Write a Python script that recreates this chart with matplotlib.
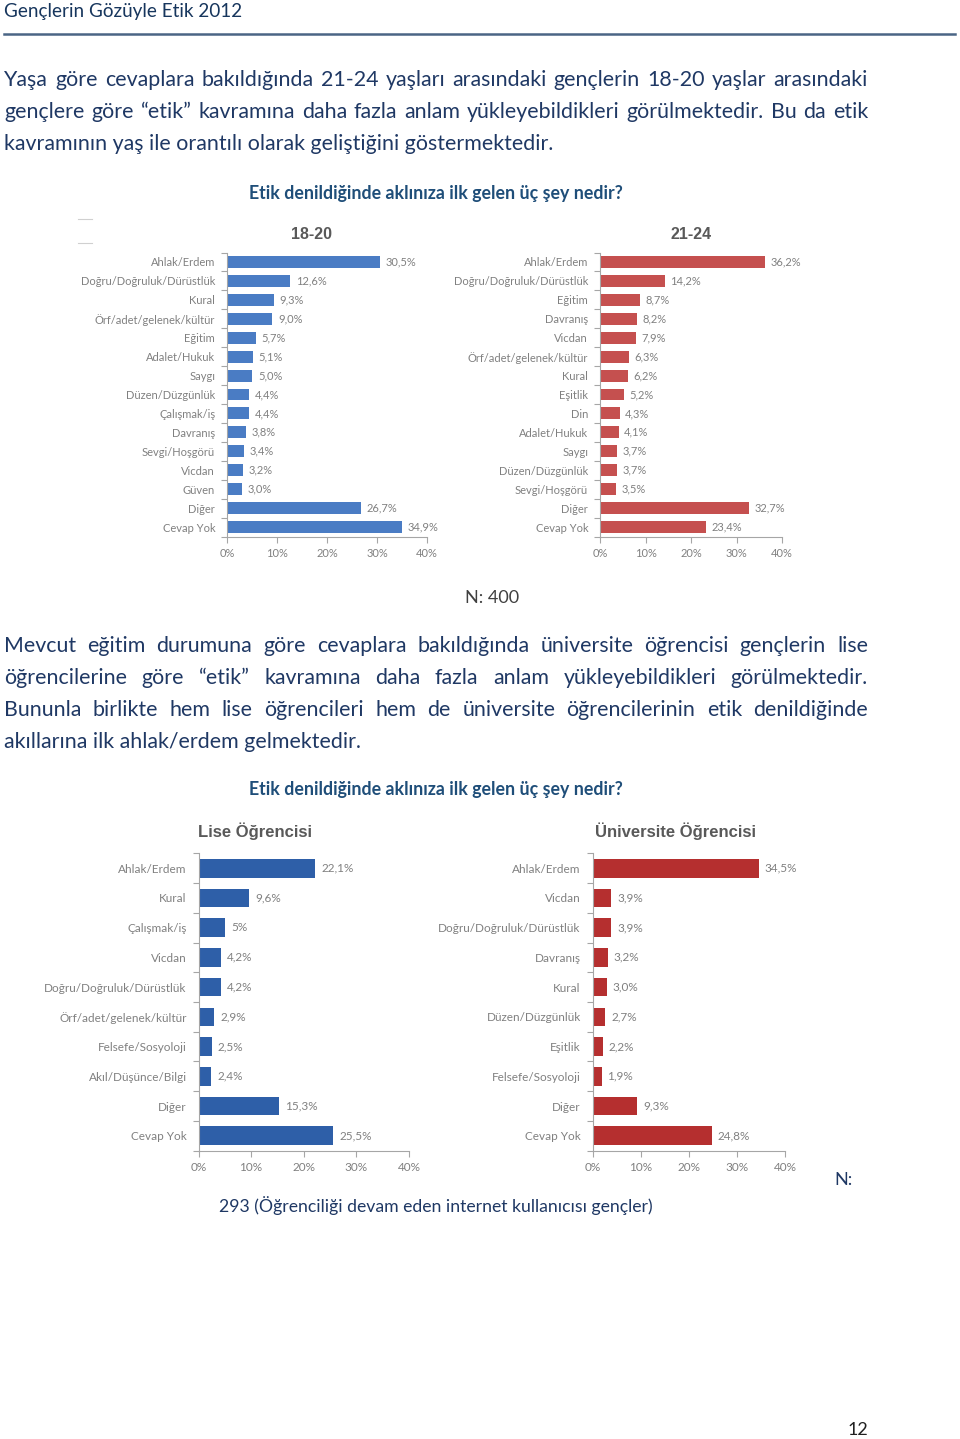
import matplotlib
matplotlib.use('Agg')
import matplotlib.pyplot as plt
from matplotlib.lines import Line2D

# --- datos ---
cat_18_20 = ['Ahlak/Erdem', 'Doğru/Doğruluk/Dürüstlük', 'Kural', 'Örf/adet/gelenek/kültür',
             'Eğitim', 'Adalet/Hukuk', 'Saygı', 'Düzen/Düzgünlük', 'Çalışmak/iş', 'Davranış',
             'Sevgi/Hoşgörü', 'Vicdan', 'Güven', 'Diğer', 'Cevap Yok']
val_18_20 = [30.5, 12.6, 9.3, 9.0, 5.7, 5.1, 5.0, 4.4, 4.4, 3.8, 3.4, 3.2, 3.0, 26.7, 34.9]

cat_21_24 = ['Ahlak/Erdem', 'Doğru/Doğruluk/Dürüstlük', 'Eğitim', 'Davranış', 'Vicdan',
             'Örf/adet/gelenek/kültür', 'Kural', 'Eşitlik', 'Din', 'Adalet/Hukuk', 'Saygı',
             'Düzen/Düzgünlük', 'Sevgi/Hoşgörü', 'Diğer', 'Cevap Yok']
val_21_24 = [36.2, 14.2, 8.7, 8.2, 7.9, 6.3, 6.2, 5.2, 4.3, 4.1, 3.7, 3.7, 3.5, 32.7, 23.4]

cat_lise = ['Ahlak/Erdem', 'Kural', 'Çalışmak/iş', 'Vicdan', 'Doğru/Doğruluk/Dürüstlük',
            'Örf/adet/gelenek/kültür', 'Felsefe/Sosyoloji', 'Akıl/Düşünce/Bilgi', 'Diğer', 'Cevap Yok']
val_lise = [22.1, 9.6, 5.0, 4.2, 4.2, 2.9, 2.5, 2.4, 15.3, 25.5]
lbl_lise = ['22,1%', '9,6%', '5%', '4,2%', '4,2%', '2,9%', '2,5%', '2,4%', '15,3%', '25,5%']

cat_uni = ['Ahlak/Erdem', 'Vicdan', 'Doğru/Doğruluk/Dürüstlük', 'Davranış', 'Kural',
           'Düzen/Düzgünlük', 'Eşitlik', 'Felsefe/Sosyoloji', 'Diğer', 'Cevap Yok']
val_uni = [34.5, 3.9, 3.9, 3.2, 3.0, 2.7, 2.2, 1.9, 9.3, 24.8]

x_ticks = [0, 10, 20, 30, 40]

W, H = 960, 1439
AZUL_TEXTO = '#1F3864'
GRIS = '#808080'

fig = plt.figure(figsize=(W / 100, H / 100), dpi=100)
renderer = fig.canvas.get_renderer()


def fy(y):
    return 1 - y / H


def texto_justificado(texto, x0, x1, y, **kw):
    palabras = texto.split()
    objs = [fig.text(0, fy(y), p, va='center', ha='left', **kw) for p in palabras]
    anchos = [o.get_window_extent(renderer).width for o in objs]
    hueco = (x1 - x0 - sum(anchos)) / max(len(palabras) - 1, 1)
    x = x0
    for o, a in zip(objs, anchos):
        o.set_x(x / W)
        x += a + hueco


def grafico(rect, categorias, valores, color, fs, pad, etiquetas=None):
    left, top, right, bottom = rect
    ax = fig.add_axes([left / W, fy(bottom), (right - left) / W, (bottom - top) / H])
    n = len(categorias)
    pos = list(range(n))
    ax.barh(pos, valores, height=0.63, color=color)
    ax.set_xlim(0, 40)
    ax.set_ylim(n - 0.5, -0.5)
    ax.set_yticks(pos)
    ax.set_yticklabels(categorias, fontsize=fs, color=GRIS, family='Lato')
    ax.set_yticks([i - 0.5 for i in range(n + 1)], minor=True)
    ax.tick_params(axis='y', which='major', length=0, pad=pad)
    ax.tick_params(axis='y', which='minor', length=4, color='#A6A6A6', width=0.8)
    ax.set_xticks(x_ticks)
    ax.set_xticklabels([f'{t}%' for t in x_ticks], fontsize=fs, color=GRIS, family='Lato')
    ax.tick_params(axis='x', length=4, color='#A6A6A6', width=0.8, pad=4)
    for s in ['top', 'right']:
        ax.spines[s].set_visible(False)
    for s in ['left', 'bottom']:
        ax.spines[s].set_color('#A6A6A6')
        ax.spines[s].set_linewidth(0.8)
    if etiquetas is None:
        etiquetas = [f'{v:.1f}%'.replace('.', ',') for v in valores]
    for p, v, e in zip(pos, valores, etiquetas):
        ax.text(v + 1.2, p, e, va='center', ha='left', fontsize=fs, color=GRIS, family='Lato')
    return ax


# --- cabecera ---
fig.text(4 / W, fy(11), 'Gençlerin Gözüyle Etik 2012', fontsize=13.6, color='#17365D',
         family='Lato', va='center')
fig.add_artist(Line2D([4 / W, 955 / W], [fy(34), fy(34)], color='#4A6585', lw=1.8))

cuerpo = dict(fontsize=15.4, color=AZUL_TEXTO, family='Lato')
texto_justificado('Yaşa göre cevaplara bakıldığında 21-24 yaşları arasındaki gençlerin 18-20 yaşlar arasındaki',
                  4, 868, 80, **cuerpo)
texto_justificado('gençlere göre “etik” kavramına daha fazla anlam yükleyebildikleri görülmektedir. Bu da etik',
                  4, 868, 112, **cuerpo)
fig.text(4 / W, fy(144), 'kavramının yaş ile orantılı olarak geliştiğini göstermektedir.', va='center', **cuerpo)

fig.text(436 / W, fy(193), 'Etik denildiğinde aklınıza ilk gelen üç şey nedir?', fontsize=12.8,
         fontweight='bold', color='#1F4E79', family='Lato', ha='center', va='center')

# pequeñas marcas grises a la izquierda
for yy in (219, 243):
    fig.add_artist(Line2D([78 / W, 92 / W], [fy(yy), fy(yy)], color='#D0D0D0', lw=0.8))

ax1 = grafico((227, 252.5, 427, 536.5), cat_18_20, val_18_20, '#4A7CC4', 8, 8.5)
ax1.set_title('18-20', fontsize=11.5, fontweight='bold', color='#595959', family='Liberation Sans',
              pad=10, x=0.42)
ax2 = grafico((600, 252.5, 782, 536.5), cat_21_24, val_21_24, '#C5504F', 8, 8.5)
ax2.set_title('21-24', fontsize=11.5, fontweight='bold', color='#595959', family='Liberation Sans',
              pad=10, x=0.5)

fig.text(492 / W, fy(598), 'N: 400', fontsize=13, color='#404040', family='Lato', ha='center', va='center')

texto_justificado('Mevcut eğitim durumuna göre cevaplara bakıldığında üniversite öğrencisi gençlerin lise',
                  4, 868, 646, **cuerpo)
texto_justificado('öğrencilerine göre “etik” kavramına daha fazla anlam yükleyebildikleri görülmektedir.',
                  4, 868, 678, **cuerpo)
texto_justificado('Bununla birlikte hem lise öğrencileri hem de üniversite öğrencilerinin etik denildiğinde',
                  4, 868, 710, **cuerpo)
fig.text(4 / W, fy(742), 'akıllarına ilk ahlak/erdem gelmektedir.', va='center', **cuerpo)

fig.text(436 / W, fy(790), 'Etik denildiğinde aklınıza ilk gelen üç şey nedir?', fontsize=12.8,
         fontweight='bold', color='#1F4E79', family='Lato', ha='center', va='center')

ax3 = grafico((198.5, 853.3, 409, 1150.7), cat_lise, val_lise, '#2E5FA8', 8.5, 8.5, lbl_lise)
ax3.set_title('Lise Öğrencisi', fontsize=12, fontweight='bold', color='#595959',
              family='Liberation Sans', pad=12, x=0.27)
ax4 = grafico((592.5, 853.3, 785, 1150.7), cat_uni, val_uni, '#B52F2F', 8.5, 8.5)
ax4.set_title('Üniversite Öğrencisi', fontsize=12, fontweight='bold', color='#595959',
              family='Liberation Sans', pad=12, x=0.43)

fig.text(844 / W, fy(1180), 'N:', fontsize=13, color=AZUL_TEXTO, family='Lato', ha='center', va='center')
fig.text(436 / W, fy(1206), '293 (Öğrenciliği devam eden internet kullanıcısı gençler)', fontsize=12.7,
         color=AZUL_TEXTO, family='Lato', ha='center', va='center')

fig.text(858 / W, fy(1430), '12', fontsize=13, color='#202020', family='Lato', ha='center', va='center')

fig.savefig('out.png', dpi=100)
